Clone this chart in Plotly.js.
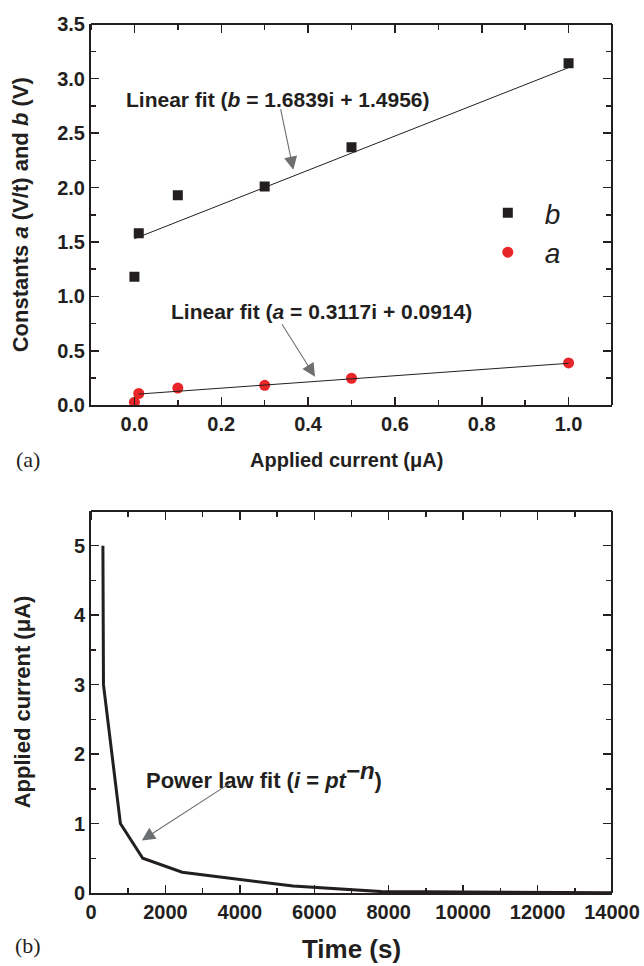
<!DOCTYPE html>
<html>
<head>
<meta charset="utf-8">
<script src="https://cdn.plot.ly/plotly-3.0.1.min.js"></script>
<style>
html,body{margin:0;padding:0;background:#fff;}
#chart{width:644px;height:966px;}
</style>
</head>
<body>
<div id="chart"></div>
<script>
// ---- Panel (a) data ----
const currentA = [0, 0.01, 0.1, 0.3, 0.5, 1.0];
const constB = [1.18, 1.58, 1.93, 2.01, 2.37, 3.14];
const constA = [0.03, 0.11, 0.16, 0.185, 0.25, 0.39];
const fitBX = [0.0, 1.0];
const fitBY = [1.53, 3.10];
const fitAX = [0.01, 1.0];
const fitAY = [0.105, 0.387];
const xTicksA = [0, 0.2, 0.4, 0.6, 0.8, 1.0];
const yTicksA = [0, 0.5, 1.0, 1.5, 2.0, 2.5, 3.0, 3.5];

// ---- Panel (b) data ----
const timeS = [320, 335, 790, 1390, 2450, 5430, 7800, 14000];
const currentB = [5.0, 3.0, 1.0, 0.5, 0.3, 0.1, 0.02, 0.005];
const xTicksB = [0, 2000, 4000, 6000, 8000, 10000, 12000, 14000];
const yTicksB = [0, 1, 2, 3, 4, 5];

const INK = '#231f20';
const FONT = 'Arial, "Liberation Sans", Helvetica, sans-serif';
const tickFont = {family: FONT, size: 20, color: INK, weight: 'bold'};

function axisBase(extra) {
  return Object.assign({
    showline: true, linecolor: INK, linewidth: 2, mirror: false,
    ticks: 'inside', ticklen: 8, tickwidth: 1.5, tickcolor: INK,
    showgrid: false, zeroline: false, tickfont: tickFont,
    fixedrange: true
  }, extra);
}
function minor(dt, dir) {
  return {ticks: dir || 'inside', ticklen: 5, tickwidth: 1.5, tickcolor: INK, dtick: dt, tick0: 0};
}
// frame axes on the top / right sides: free-positioned, ticks pointing into the plot
function frameAxis(extra, dt) {
  return axisBase(Object.assign({anchor: 'free', showticklabels: false,
    ticks: 'outside', minor: minor(dt, 'outside')}, extra));
}

const traces = [
  {x: currentA, y: constB, type: 'scatter', mode: 'markers', name: '<i>b</i>',
   marker: {symbol: 'square', size: 10, color: INK}, xaxis: 'x', yaxis: 'y'},
  {x: currentA, y: constA, type: 'scatter', mode: 'markers', name: '<i>a</i>',
   marker: {symbol: 'circle', size: 11, color: '#e8262a'}, xaxis: 'x', yaxis: 'y'},
  {x: fitBX, y: fitBY, type: 'scatter', mode: 'lines', showlegend: false,
   line: {color: INK, width: 1}, xaxis: 'x', yaxis: 'y'},
  {x: fitAX, y: fitAY, type: 'scatter', mode: 'lines', showlegend: false,
   line: {color: INK, width: 1}, xaxis: 'x', yaxis: 'y'},
  {x: timeS, y: currentB, type: 'scatter', mode: 'lines', showlegend: false,
   line: {color: INK, width: 3}, xaxis: 'x2', yaxis: 'y2'},
  {x: [], y: [], type: 'scatter', mode: 'markers', showlegend: false, xaxis: 'x3', yaxis: 'y3'},
  {x: [], y: [], type: 'scatter', mode: 'markers', showlegend: false, xaxis: 'x4', yaxis: 'y4'}
];

const arrowStyle = {showarrow: true, arrowhead: 2, arrowsize: 2.4, arrowwidth: 1.1,
                    arrowcolor: '#6d6e70', text: ''};
const annFont = {family: FONT, size: 21, color: INK, weight: 'bold'};
const serif = {family: '"Liberation Serif", "Times New Roman", serif', size: 22, color: INK};

const layout = {
  width: 644, height: 966,
  margin: {l: 91, r: 32, t: 24, b: 73},
  paper_bgcolor: '#fff', plot_bgcolor: '#fff',
  showlegend: true,
  legend: {x: 0.729, y: 0.76, xanchor: 'left', yanchor: 'middle',
           font: {family: FONT, size: 28, color: INK}, bgcolor: 'rgba(0,0,0,0)',
           itemwidth: 64, tracegroupgap: 0},
  xaxis: axisBase({domain: [0, 1], anchor: 'y', range: [-0.1, 1.1],
    tickvals: xTicksA, ticktext: xTicksA.map(v => v.toFixed(1)), minor: minor(0.1)}),
  yaxis: axisBase({domain: [0.561, 1], anchor: 'x', range: [0, 3.5],
    tickvals: yTicksA, ticktext: yTicksA.map(v => v.toFixed(1)), minor: minor(0.25),
    title: {text: 'Constants <i>a</i> (V/t) and <i>b</i> (V)', font: {family: FONT, size: 22, color: INK, weight: 'bold'}, standoff: 22}}),
  xaxis3: frameAxis({domain: [0, 1], position: 1, overlaying: 'x', side: 'bottom',
    range: [-0.1, 1.1], tickvals: xTicksA}, 0.1),
  yaxis3: frameAxis({domain: [0.561, 1], position: 1, overlaying: 'y', side: 'left',
    range: [0, 3.5], tickvals: yTicksA}, 0.25),
  xaxis2: axisBase({domain: [0, 1], anchor: 'y2', range: [0, 14000],
    tickvals: xTicksB, ticktext: xTicksB.map(String), minor: minor(1000),
    title: {text: 'Time (s)', font: {family: FONT, size: 26, color: INK, weight: 'bold'}, standoff: 18}}),
  yaxis2: axisBase({domain: [0, 0.4396], anchor: 'x2', range: [0, 5.5],
    tickvals: yTicksB, ticktext: yTicksB.map(String), minor: minor(0.5),
    title: {text: 'Applied current (μA)', font: {family: FONT, size: 22, color: INK, weight: 'bold'}, standoff: 37}}),
  xaxis4: frameAxis({domain: [0, 1], position: 0.4396, overlaying: 'x2', side: 'bottom',
    range: [0, 14000], tickvals: xTicksB}, 1000),
  yaxis4: frameAxis({domain: [0, 0.4396], position: 1, overlaying: 'y2', side: 'left',
    range: [0, 5.5], tickvals: yTicksB}, 0.5),
  annotations: [
    {xref: 'x', yref: 'y', x: 0.331, y: 2.805, showarrow: false,
     text: 'Linear fit (<i>b</i> = 1.6839i + 1.4956)', font: annFont},
    Object.assign({xref: 'x', yref: 'y', x: 0.366, y: 2.163, ax: -13, ay: -62}, arrowStyle),
    {xref: 'x', yref: 'y', x: 0.430, y: 0.861, showarrow: false,
     text: 'Linear fit (<i>a</i> = 0.3117i + 0.0914)', font: annFont},
    Object.assign({xref: 'x', yref: 'y', x: 0.416, y: 0.264, ax: -34, ay: -54}, arrowStyle),
    {xref: 'x2', yref: 'y2', x: 4648, y: 1.70, showarrow: false,
     text: 'Power law fit (<i>i</i> = <i>pt</i><sup><i><span style="font-size:24px">−n</span></i></sup>)',
     font: {family: FONT, size: 22, color: INK, weight: 'bold'}},
    Object.assign({xref: 'x2', yref: 'y2', x: 1365, y: 0.757, ax: 91, ay: -59}, arrowStyle),
    {xref: 'paper', yref: 'paper', x: 0.491, y: 0.4983, xanchor: 'center', yanchor: 'middle',
     showarrow: false, text: 'Applied current (μA)',
     font: {family: FONT, size: 20, color: INK, weight: 'bold'}},
    {xref: 'paper', yref: 'paper', x: -0.121, y: 0.4983, xanchor: 'center', yanchor: 'middle',
     showarrow: false, text: '(a)', font: serif},
    {xref: 'paper', yref: 'paper', x: -0.121, y: 0, xanchor: 'center', yanchor: 'middle',
     yshift: -52, showarrow: false, text: '(b)', font: serif}
  ]
};

Plotly.newPlot('chart', traces, layout, {staticPlot: true, displayModeBar: false});
</script>
</body>
</html>
